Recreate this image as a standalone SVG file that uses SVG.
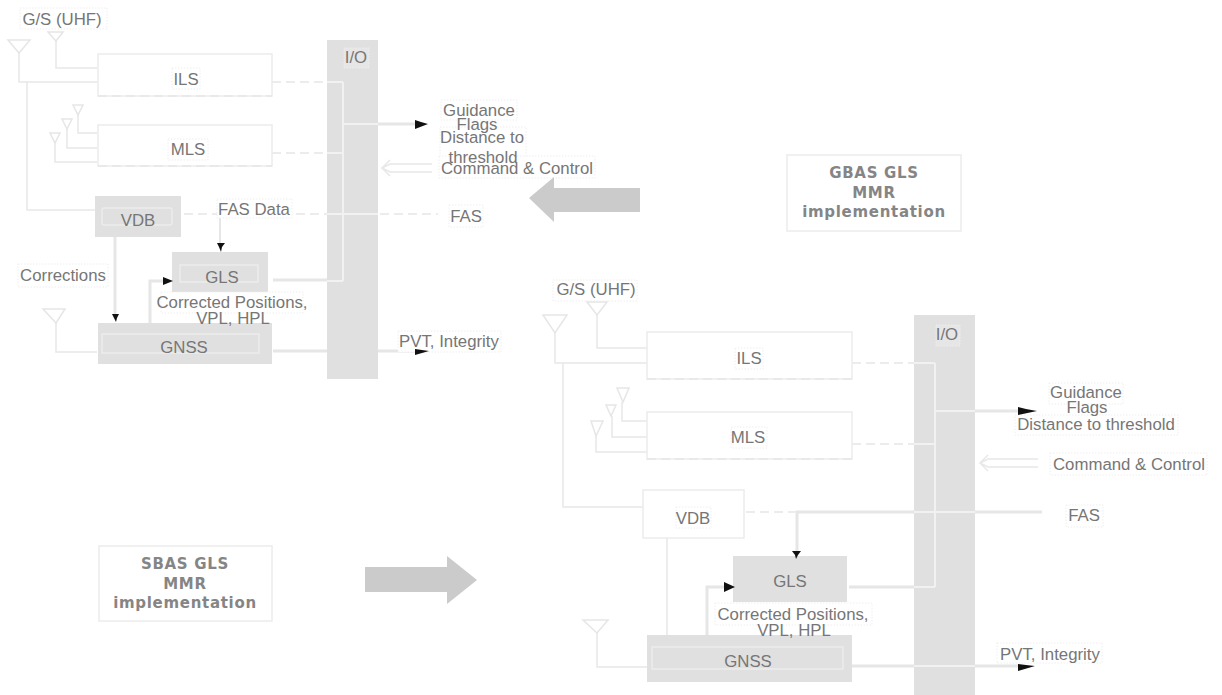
<svg xmlns="http://www.w3.org/2000/svg" width="1222" height="695" viewBox="0 0 1222 695">
<style>
text{font-family:"Liberation Sans",Arial,sans-serif;font-size:16.8px;fill:#767676;text-anchor:middle}
.b{font-family:"DejaVu Sans",Verdana,sans-serif;font-size:15px;font-weight:bold;letter-spacing:.7px;fill:#858585}
.box{fill:#fff;stroke:#ececec;stroke-width:1.5}
.dash{fill:none;stroke:#e6e6e6;stroke-width:1.5;stroke-dasharray:9 5}
.g{fill:#e0e0e0;stroke:none}
.in{fill:none;stroke:#ececec;stroke-width:1.5}
.w{fill:none;stroke:#e8e8e8;stroke-width:1.5}
.t{fill:none;stroke:#e6e6e6;stroke-width:3}
.iow{fill:none;stroke:#f1f1f1;stroke-width:2}
.lab{fill:#fff;stroke:#eeeeee;stroke-width:1;stroke-dasharray:1.5 1.5}
.labg{fill:#e6e6e6;stroke:#eeeeee;stroke-width:1;stroke-dasharray:1.5 1.5}
.ant{fill:none;stroke:#e6e6e6;stroke-width:1.5}
.hd{fill:#111;stroke:none}
.big{fill:#cbcbcb;stroke:none}
</style>
<rect width="1222" height="695" fill="#fff"/>

<g id="connectors">
<path class="w" d="M56 41V68H97M19 53V82H97M27 82V210H95"/>
<path class="w" d="M78 115V133H97M67 129V148H97M55 143V162H97M56 323V352H97"/>
<path class="dash" d="M272 82H327M272 153H327M184 214H438"/>
<path class="t" style="stroke-width:2" d="M220 214V245"/>
<path class="t" d="M115 237V316"/>
<path class="t" d="M150 323V281H165"/>
<path class="t" d="M273 280H327M273 351H415"/>
<path class="t" d="M378 124H416"/>
<path class="w" d="M432 164H390L382 168L390 172H432M390 160L382 168L390 176"/>
<path class="w" d="M597 315V348H647M555 333V363H647M563 363V507H643"/>
<path class="w" d="M622 402V421H647M612 416V437H647M596 436V452H647"/>
<path class="w" d="M667 538V635M597 633V667H647"/>
<path class="dash" d="M852 363H914M852 444H914M746 512H795"/>
<path class="t" d="M914 512H797V552"/>
<path class="t" d="M975 512H1042"/>
<path class="t" d="M707 635V587H725"/>
<path class="t" d="M849 587H914M852 666H914M975 666H1020M975 411H1020"/>
<path class="w" d="M1038 459H988L980 463L988 467H1038M988 455L980 463L988 471"/>
</g>

<g id="io-top"><rect class="g" x="327" y="40" width="51" height="339"/><path class="iow" d="M327 82H343M343 82V281M343 124H378M327 153H343M327 214H378M327 281H343"/><rect class="labg" x="344" y="48" width="25" height="20"/><text x="356" y="63">I/O</text></g>
<g id="ils-top"><rect class="box" x="98" y="54" width="174" height="42"/><path class="dash" d="M98 96H272"/><rect class="lab" x="172" y="68" width="28" height="21"/><text x="186" y="85">ILS</text></g>
<g id="mls-top"><rect class="box" x="98" y="125" width="174" height="41"/><path class="dash" d="M98 166H272"/><rect class="lab" x="168" y="139" width="40" height="21"/><text x="188" y="155">MLS</text></g>
<g id="vdb-top"><rect class="g" x="95" y="196" width="86" height="41"/><rect class="in" x="102" y="208" width="70" height="17" rx="2"/><text x="138" y="226">VDB</text></g>
<g id="gls-top"><rect class="g" x="172" y="252" width="96" height="41"/><rect class="in" x="180" y="265" width="78" height="17"/><text x="222" y="283">GLS</text></g>
<g id="gnss-top"><rect class="g" x="98" y="323" width="174" height="41"/><rect class="in" x="102" y="334" width="157" height="19"/><text x="184" y="353">GNSS</text></g>

<g id="labels-top">
<rect class="lab" x="20" y="8" width="87" height="21"/>
<rect class="lab" x="18" y="264" width="90" height="23"/>
<rect class="lab" x="217" y="199" width="75" height="19"/>
<rect class="lab" x="161" y="292" width="142" height="21"/>
<rect class="lab" x="441" y="100" width="76" height="20"/>
<rect class="lab" x="440" y="127" width="86" height="40"/>
<rect class="lab" x="439" y="156" width="156" height="22"/>
<rect class="lab" x="449" y="205" width="34" height="22"/>
<rect class="lab" x="398" y="331" width="103" height="21"/>
<text x="62" y="25">G/S (UHF)</text>
<text x="63" y="281">Corrections</text>
<text x="254" y="215">FAS Data</text>
<text x="232" y="308">Corrected Positions,</text>
<text x="233" y="324">VPL, HPL</text>
<text x="479" y="116">Guidance</text>
<text x="477" y="130">Flags</text>
<text x="482" y="143">Distance to</text>
<text x="483" y="163">threshold</text>
<text x="517" y="174">Command &amp; Control</text>
<text x="466" y="222">FAS</text>
<text x="449" y="347">PVT, Integrity</text>
</g>

<polygon id="arrow-left" class="big" points="529,198 554,177 554,188 640,188 640,212 554,212 554,222"/>
<polygon id="arrow-right" class="big" points="365,567 447,567 447,556 477,580 447,604 447,592 365,592"/>

<g id="gbas-note"><rect class="box" x="787" y="155" width="174" height="76"/><text class="b" x="874" y="178">GBAS GLS</text><text class="b" x="874" y="198">MMR</text><text class="b" x="874" y="217">implementation</text></g>
<g id="sbas-note"><rect class="box" x="99" y="546" width="173" height="75"/><text class="b" x="185" y="569">SBAS GLS</text><text class="b" x="185" y="589">MMR</text><text class="b" x="185" y="608">implementation</text></g>

<g id="io-bottom"><rect class="g" x="914" y="315" width="61" height="380"/><path class="iow" d="M914 363H935M935 363V587M935 411H975M914 444H935M914 512H975M914 587H935M914 666H975"/><rect class="labg" x="936" y="325" width="24" height="21"/><text x="947" y="340">I/O</text></g>
<g id="ils-bottom"><rect class="box" x="647" y="332" width="205" height="47"/><path class="dash" d="M647 379H852"/><rect class="lab" x="735" y="348" width="28" height="21"/><text x="749" y="364">ILS</text></g>
<g id="mls-bottom"><rect class="box" x="647" y="412" width="205" height="47"/><path class="dash" d="M647 459H852"/><rect class="lab" x="731" y="427" width="36" height="21"/><text x="748" y="443">MLS</text></g>
<g id="vdb-bottom"><rect class="box" x="643" y="490" width="101" height="48"/><rect class="lab" x="676" y="507" width="35" height="21"/><text x="693" y="524">VDB</text></g>
<g id="gls-bottom"><rect class="g" x="733" y="556" width="114" height="46"/><text x="790" y="587">GLS</text></g>
<g id="gnss-bottom"><rect class="g" x="647" y="635" width="205" height="47"/><rect class="in" x="652" y="647" width="191" height="22"/><text x="748" y="667">GNSS</text></g>

<g id="labels-bottom">
<rect class="lab" x="553" y="280" width="84" height="21"/>
<rect class="lab" x="715" y="603" width="157" height="22"/>
<rect class="lab" x="1049" y="383" width="74" height="21"/>
<rect class="lab" x="1015" y="415" width="163" height="20"/>
<rect class="lab" x="1050" y="453" width="157" height="22"/>
<rect class="lab" x="1066" y="505" width="37" height="22"/>
<rect class="lab" x="997" y="643" width="105" height="20"/>
<text x="596" y="295">G/S (UHF)</text>
<text x="793" y="620">Corrected Positions,</text>
<text x="794" y="636">VPL, HPL</text>
<text x="1086" y="398">Guidance</text>
<text x="1087" y="413">Flags</text>
<text x="1096" y="430">Distance to threshold</text>
<text x="1129" y="470">Command &amp; Control</text>
<text x="1084" y="521">FAS</text>
<text x="1050" y="660">PVT, Integrity</text>
</g>

<g id="antennas">
<path class="ant" d="M8 40H30L19 53ZM48 32H63L56 41ZM73 105H83L78 115ZM62 119H72L67 129ZM50 133H60L55 143ZM43 309H65L56 323Z"/>
<path class="ant" d="M543 315H567L555 333ZM587 302H607L597 315ZM617 388H629L623 402ZM606 405H616L611 416ZM591 421H603L596 436ZM583 620H608L597 633Z"/>
</g>

<g id="arrowheads">
<polygon class="hd" points="217,243 225,243 222,247 221,252 219,247"/>
<polygon class="hd" points="112,314 119,314 117,318 116,322 114,318"/>
<polygon class="hd" points="163,277 168,279 173,281 163,285"/>
<polygon class="hd" points="415,120 421,122 428,124 415,129"/>
<polygon class="hd" points="415,349 422,350 429,351 415,355"/>
<polygon class="hd" points="792,551 801,551 798,555 796,559 795,555"/>
<polygon class="hd" points="724,582 735,587 724,592"/>
<polygon class="hd" points="1018,407 1026,409 1037,411 1018,415"/>
<polygon class="hd" points="1018,664 1026,665 1035,666 1018,671"/>
</g>
</svg>
